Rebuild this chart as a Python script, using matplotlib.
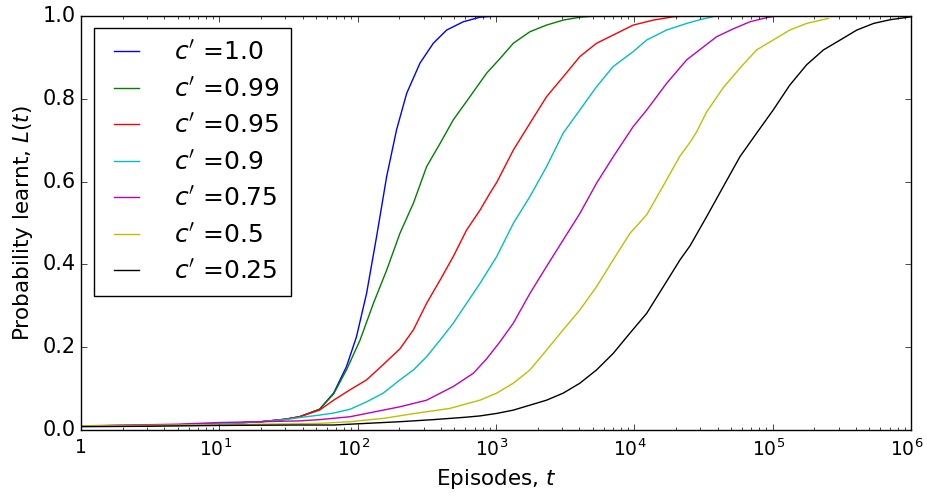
import matplotlib
matplotlib.use('Agg')
import matplotlib.pyplot as plt
import matplotlib.transforms as mtransforms

# Episodes t and probability learnt L(t) for each c'
t_10 = [1, 3, 10, 20, 30, 38, 53, 67, 83, 98, 116, 137, 162, 191, 226, 282, 352, 440, 580, 766, 1000]
L_10 = [0.01, 0.011, 0.015, 0.02, 0.026, 0.032, 0.050, 0.089, 0.153, 0.225, 0.330, 0.467, 0.612, 0.725, 0.813, 0.886, 0.934, 0.966, 0.986, 0.997, 1.0]

t_099 = [1, 3, 10, 20, 30, 38, 53, 67, 83, 104, 130, 162, 202, 253, 315, 394, 491, 648, 856, 1068, 1334, 1760, 2320, 3060, 4040, 5300]
L_099 = [0.01, 0.011, 0.015, 0.02, 0.026, 0.032, 0.050, 0.087, 0.145, 0.217, 0.306, 0.386, 0.475, 0.548, 0.636, 0.692, 0.749, 0.805, 0.862, 0.897, 0.934, 0.962, 0.978, 0.990, 0.997, 1.0]

t_095 = [1, 3, 10, 20, 30, 38, 53, 67, 88, 116, 153, 202, 253, 315, 394, 491, 613, 766, 904, 1012, 1334, 1760, 2320, 3060, 4040, 5330, 7040, 9820, 13700, 19100, 24000]
L_095 = [0.01, 0.011, 0.015, 0.02, 0.026, 0.032, 0.048, 0.072, 0.097, 0.121, 0.158, 0.196, 0.242, 0.306, 0.362, 0.419, 0.483, 0.531, 0.572, 0.598, 0.676, 0.741, 0.805, 0.853, 0.902, 0.934, 0.954, 0.978, 0.990, 0.998, 1.0]

t_09 = [1, 3, 10, 20, 30, 38, 53, 67, 88, 116, 153, 202, 253, 315, 394, 491, 613, 766, 1012, 1334, 1760, 2320, 3060, 4040, 5330, 7040, 9820, 12300, 17100, 23900, 29800, 39000]
L_09 = [0.009, 0.01, 0.015, 0.02, 0.025, 0.03, 0.036, 0.041, 0.050, 0.068, 0.089, 0.121, 0.145, 0.177, 0.217, 0.258, 0.306, 0.354, 0.419, 0.499, 0.564, 0.636, 0.717, 0.773, 0.829, 0.878, 0.914, 0.942, 0.966, 0.982, 0.991, 1.0]

t_075 = [1, 5, 10, 20, 38, 53, 88, 153, 202, 315, 491, 686, 856, 1068, 1334, 1760, 2320, 3060, 4040, 5330, 7040, 9820, 12300, 17100, 23900, 31500, 39400, 52000, 68600, 90500, 107000]
L_075 = [0.01, 0.014, 0.018, 0.02, 0.022, 0.025, 0.032, 0.048, 0.056, 0.072, 0.105, 0.137, 0.172, 0.213, 0.258, 0.330, 0.395, 0.459, 0.523, 0.596, 0.660, 0.733, 0.773, 0.837, 0.894, 0.925, 0.950, 0.969, 0.986, 0.996, 1.0]

t_05 = [1, 3, 10, 20, 38, 53, 88, 153, 259, 462, 766, 1012, 1334, 1760, 2320, 3060, 4040, 5330, 7040, 9300, 12300, 16200, 21400, 25300, 28200, 33300, 44000, 58000, 76600, 101000, 133000, 176000, 252000]
L_05 = [0.01, 0.011, 0.013, 0.014, 0.015, 0.016, 0.020, 0.028, 0.040, 0.052, 0.072, 0.089, 0.113, 0.145, 0.193, 0.242, 0.290, 0.346, 0.411, 0.475, 0.520, 0.590, 0.662, 0.695, 0.720, 0.768, 0.827, 0.874, 0.918, 0.942, 0.966, 0.982, 0.994]

t_025 = [1, 3, 10, 36, 67, 116, 202, 352, 613, 766, 1012, 1334, 1760, 2320, 3060, 4040, 5330, 7040, 9300, 12300, 16200, 21400, 25300, 33300, 44000, 58000, 76600, 101000, 133000, 176000, 233000, 308000, 406000, 537000, 709000, 1000000]
L_025 = [0.008, 0.009, 0.011, 0.012, 0.012, 0.016, 0.020, 0.025, 0.031, 0.034, 0.040, 0.048, 0.060, 0.072, 0.089, 0.113, 0.145, 0.185, 0.234, 0.282, 0.346, 0.411, 0.445, 0.515, 0.588, 0.660, 0.717, 0.773, 0.833, 0.882, 0.918, 0.942, 0.966, 0.982, 0.991, 0.998]

series = [
    (t_10, L_10, 'b', r"$c'$ =1.0"),
    (t_099, L_099, 'g', r"$c'$ =0.99"),
    (t_095, L_095, 'r', r"$c'$ =0.95"),
    (t_09, L_09, 'c', r"$c'$ =0.9"),
    (t_075, L_075, 'm', r"$c'$ =0.75"),
    (t_05, L_05, 'y', r"$c'$ =0.5"),
    (t_025, L_025, 'k', r"$c'$ =0.25"),
]

x_ticks = [1, 10, 100, 1000, 10000, 100000, 1000000]
x_tick_labels = ['1', '$10^{1}$', '$10^{2}$', '$10^{3}$', '$10^{4}$', '$10^{5}$', '$10^{6}$']

plt.style.use('classic')
plt.rcParams['figure.facecolor'] = 'white'
plt.rcParams['savefig.facecolor'] = 'white'
plt.rcParams['mathtext.fontset'] = 'dejavusans'
plt.rcParams['font.family'] = ['DejaVu Sans']

fig = plt.figure(figsize=(9.27, 4.99), dpi=100)
ax = fig.add_axes([0.0874, 0.1383, 0.8953, 0.8297])

for t, L, color, label in series:
    ax.plot(t, L, color=color, linewidth=1.0, label=label)

ax.set_xscale('log')
ax.set_xlim(1, 1e6)
ax.set_ylim(0, 1.0)
ax.set_xticks(x_ticks)
ax.set_xticklabels(x_tick_labels)
ax.set_yticks([0.0, 0.2, 0.4, 0.6, 0.8, 1.0])
ax.tick_params(axis='y', which='major', labelsize=15)
ax.tick_params(axis='x', which='major', labelsize=13.5, pad=6)

# the power-of-ten labels sit a few pixels left of their ticks in the reference
shift = mtransforms.ScaledTranslation(-4 / 100, 0, fig.dpi_scale_trans)
for lbl in ax.get_xticklabels()[1:]:
    lbl.set_transform(lbl.get_transform() + shift)

ax.set_xlabel('Episodes, $t$', fontsize=15.5)
ax.set_ylabel('Probability learnt, $L(t)$', fontsize=15.5)

ax.legend(loc='upper left', fontsize=18, handlelength=1.6,
          handletextpad=1.1, borderpad=0.5, labelspacing=0.5)

fig.savefig('out.png', dpi=100)
